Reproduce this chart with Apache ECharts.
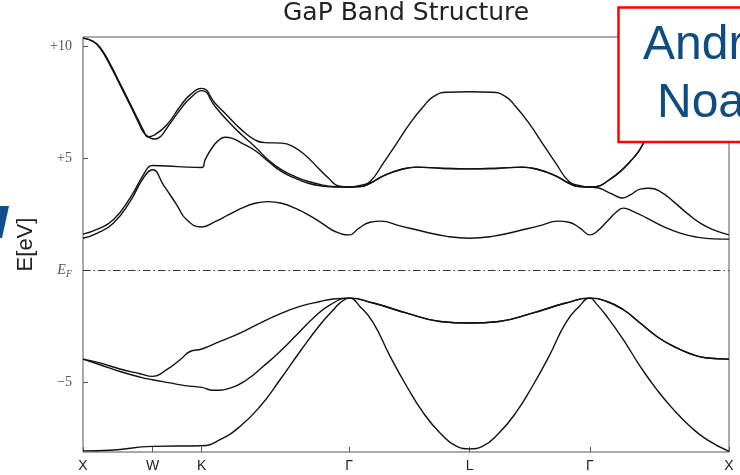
<!DOCTYPE html>
<html>
<head>
<meta charset="utf-8">
<title>GaP Band Structure</title>
<script src="https://cdn.jsdelivr.net/npm/echarts@6.0.0/dist/echarts.min.js"></script>
<style>
    html, body { margin: 0; padding: 0; background: #fff; }
    #chart { width: 740px; height: 475px; }
</style>
</head>
<body>
<div id="chart"></div>
<script>
// High-symmetry points along the k-path (path length, 2pi/a units)
const kTicks = [0, 0.5, 0.854, 1.914, 2.78, 3.646, 4.646];
const kLabels = ['X', 'W', 'K', 'Γ', 'L', 'Γ', 'X'];

// Energy ticks
const eTicks = [-5, 0, 5, 10];
const eLabels = ['−5', '{e|E}{f|F}', '+5', '+10'];

// Bands, [k, E in eV]
const band1 = [
    [0, -8.05], [0.194, -8.02], [0.5, -7.85], [0.854, -7.82], [0.986, -7.55], [1.129, -6.96], [1.273, -6.07],
    [1.417, -4.88], [1.561, -3.62], [1.705, -2.43], [1.801, -1.76], [1.849, -1.45], [1.914, -1.24],
    [1.993, -1.62], [2.088, -2.34], [2.209, -3.84], [2.329, -5.18], [2.448, -6.36], [2.568, -7.25], [2.688, -7.85], [2.78, -7.96],
    [2.872, -7.85], [2.992, -7.25], [3.112, -6.36], [3.231, -5.18], [3.351, -3.84], [3.472, -2.34], [3.567, -1.62], [3.646, -1.24],
    [3.696, -1.52], [3.768, -2.06], [3.887, -3.1], [4.007, -4.28], [4.127, -5.32], [4.247, -6.21], [4.367, -6.96], [4.487, -7.55], [4.646, -8.07]
];
const band2 = [
    [0, -3.96], [0.122, -4.21], [0.266, -4.51], [0.41, -4.76], [0.5, -4.88], [0.626, -5.02], [0.734, -5.14], [0.854, -5.22],
    [0.937, -5.35], [1.058, -5.25], [1.178, -4.88], [1.297, -4.28], [1.417, -3.62], [1.537, -2.87], [1.657, -2.13], [1.777, -1.54], [1.914, -1.24],
    [2.088, -1.46], [2.329, -1.91], [2.568, -2.28], [2.78, -2.35], [2.992, -2.28], [3.231, -1.91], [3.472, -1.46], [3.646, -1.24],
    [3.768, -1.39], [3.887, -1.76], [4.007, -2.35], [4.127, -2.95], [4.247, -3.39], [4.367, -3.72], [4.487, -3.91], [4.646, -3.96]
];
const band3 = [
    [0, -3.96], [0.122, -4.13], [0.266, -4.4], [0.41, -4.61], [0.5, -4.73], [0.602, -4.43], [0.698, -3.99], [0.77, -3.62], [0.854, -3.51],
    [0.986, -3.17], [1.129, -2.8], [1.273, -2.35], [1.417, -1.94], [1.561, -1.61], [1.705, -1.39], [1.801, -1.28], [1.914, -1.24],
    [2.088, -1.46], [2.329, -1.91], [2.568, -2.28], [2.78, -2.35], [2.992, -2.28], [3.231, -1.91], [3.472, -1.46], [3.646, -1.24],
    [3.768, -1.39], [3.887, -1.76], [4.007, -2.35], [4.127, -2.95], [4.247, -3.39], [4.367, -3.72], [4.487, -3.91], [4.646, -3.96]
];
const band4 = [
    [0, 1.43], [0.1, 1.65], [0.218, 2.1], [0.338, 3.06], [0.434, 4.11], [0.5, 4.48], [0.578, 3.81], [0.674, 2.92], [0.746, 2.25], [0.854, 1.93],
    [0.95, 2.17], [1.045, 2.47], [1.141, 2.77], [1.237, 2.99], [1.333, 3.06], [1.429, 2.99], [1.525, 2.77], [1.621, 2.47], [1.717, 2.1], [1.813, 1.73], [1.914, 1.58],
    [1.985, 1.88], [2.065, 2.14], [2.14, 2.19], [2.281, 1.98], [2.448, 1.73], [2.617, 1.51], [2.78, 1.43],
    [2.943, 1.51], [3.112, 1.73], [3.279, 1.98], [3.42, 2.19], [3.495, 2.14], [3.575, 1.88], [3.646, 1.58],
    [3.696, 1.73], [3.768, 2.17], [3.84, 2.62], [3.887, 2.77], [3.959, 2.62], [4.055, 2.33], [4.175, 1.95], [4.295, 1.66], [4.415, 1.48], [4.535, 1.4], [4.646, 1.39]
];
const band5 = [
    [0, 1.61], [0.1, 1.82], [0.218, 2.25], [0.338, 3.22], [0.434, 4.25], [0.482, 4.65], [0.5, 4.67], [0.68, 4.62], [0.854, 4.58],
    [0.878, 4.92], [0.926, 5.44], [0.973, 5.78], [1.022, 5.93], [1.07, 5.89], [1.141, 5.67], [1.237, 5.34], [1.333, 4.85], [1.429, 4.4],
    [1.525, 4.11], [1.621, 3.88], [1.717, 3.76], [1.813, 3.71], [1.914, 3.71],
    [1.993, 3.73], [2.065, 3.88], [2.16, 4.21], [2.281, 4.48], [2.401, 4.6], [2.568, 4.55], [2.78, 4.52],
    [2.992, 4.55], [3.159, 4.6], [3.279, 4.48], [3.4, 4.21], [3.495, 3.88], [3.567, 3.73], [3.646, 3.71],
    [3.7, 3.68], [3.768, 3.51], [3.84, 3.29], [3.876, 3.22], [3.935, 3.36], [4.007, 3.62], [4.067, 3.66], [4.151, 3.51],
    [4.247, 3.06], [4.343, 2.55], [4.439, 2.1], [4.535, 1.8], [4.646, 1.58]
];
const band6 = [
    [0, 10.35], [0.074, 10.19], [0.122, 9.9], [0.194, 9.15], [0.266, 8.26], [0.338, 7.37], [0.398, 6.6], [0.434, 6.16], [0.47, 5.95],
    [0.518, 5.85], [0.56, 5.98], [0.602, 6.33], [0.698, 7.15], [0.77, 7.67], [0.854, 8.01],
    [0.95, 7.3], [1.045, 6.63], [1.141, 6.04], [1.237, 5.51], [1.333, 4.92], [1.429, 4.48], [1.525, 4.18], [1.621, 3.96], [1.717, 3.81], [1.813, 3.73], [1.914, 3.71],
    [1.993, 3.73], [2.065, 3.88], [2.16, 4.21], [2.281, 4.48], [2.401, 4.6], [2.568, 4.55], [2.78, 4.52],
    [2.992, 4.55], [3.159, 4.6], [3.279, 4.48], [3.4, 4.21], [3.495, 3.88], [3.567, 3.73], [3.646, 3.71],
    [3.7, 3.74], [3.768, 3.96], [3.863, 4.4], [3.935, 4.85], [3.995, 5.29], [4.031, 5.67], [4.127, 6.6], [4.247, 7.6], [4.367, 8.55], [4.487, 9.45], [4.58, 10.1], [4.646, 10.35]
];
const band7 = [
    [0, 10.35], [0.074, 10.21], [0.122, 9.95], [0.194, 9.22], [0.266, 8.33], [0.338, 7.44], [0.398, 6.7], [0.434, 6.25], [0.468, 5.95],
    [0.51, 6.02], [0.602, 6.48], [0.698, 7.3], [0.77, 7.82], [0.854, 8.11],
    [0.95, 7.45], [1.045, 6.85], [1.141, 6.26], [1.237, 5.81], [1.309, 5.69], [1.429, 5.67], [1.501, 5.55], [1.597, 5.14], [1.693, 4.55], [1.765, 4.11], [1.837, 3.76], [1.914, 3.71],
    [1.993, 3.78], [2.065, 3.96], [2.16, 4.78], [2.257, 5.67], [2.353, 6.56], [2.448, 7.3], [2.52, 7.74], [2.617, 7.94], [2.78, 7.96],
    [2.943, 7.94], [3.04, 7.74], [3.112, 7.3], [3.207, 6.56], [3.303, 5.67], [3.4, 4.78], [3.495, 3.96], [3.567, 3.78], [3.646, 3.71],
    [3.7, 3.74], [3.768, 3.96], [3.863, 4.4], [3.935, 4.85], [3.995, 5.29], [4.031, 5.67], [4.127, 6.6], [4.247, 7.6], [4.367, 8.55], [4.487, 9.45], [4.58, 10.1], [4.646, 10.35]
];
const bands = [band1, band2, band3, band4, band5, band6, band7];

function labelFor(ticks, labels, v) {
    let best = 0;
    for (let i = 1; i < ticks.length; i++) {
        if (Math.abs(ticks[i] - v) < Math.abs(ticks[best] - v)) best = i;
    }
    return labels[best];
}

const chart = echarts.init(document.getElementById('chart'));

const series = bands.map((b, i) => ({
    name: 'band ' + (i + 1),
    type: 'line',
    data: b,
    smooth: 0.5,
    showSymbol: false,
    silent: true,
    lineStyle: { color: '#111', width: 1.4 }
}));

// Fermi level
series[0].markLine = {
    silent: true,
    symbol: 'none',
    label: { show: false },
    lineStyle: { color: '#333', width: 1, type: [7.5, 3, 1.5, 3] },
    data: [{ yAxis: 0 }]
};

const option = {
    animation: false,
    backgroundColor: '#fff',
    title: {
        text: 'GaP Band Structure',
        left: 283,
        top: 1,
        padding: 0,
        textStyle: { fontFamily: 'DejaVu Sans', fontSize: 25, fontWeight: 'normal', color: '#222' }
    },
    grid: {
        left: 83, right: 11, top: 37, bottom: 23,
        show: true,
        borderColor: '#555',
        borderWidth: 1
    },
    xAxis: {
        type: 'value',
        min: 0,
        max: 4.646,
        axisLine: { show: false, onZero: false },
        splitLine: { show: false },
        axisTick: { inside: true, length: 5, customValues: kTicks, lineStyle: { color: '#555' } },
        axisLabel: {
            customValues: kTicks,
            formatter: v => labelFor(kTicks, kLabels, v),
            margin: 7,
            fontFamily: 'Liberation Sans',
            fontSize: 14,
            color: '#222'
        }
    },
    yAxis: {
        type: 'value',
        min: -8.1,
        max: 10.4,
        name: 'E[eV]',
        nameLocation: 'middle',
        nameGap: 46,
        nameTextStyle: { fontFamily: 'Liberation Sans', fontSize: 22, color: '#222' },
        axisLine: { show: false, onZero: false },
        splitLine: { show: false },
        axisTick: { inside: true, length: 5, customValues: eTicks, lineStyle: { color: '#555' } },
        axisLabel: {
            customValues: eTicks,
            formatter: v => labelFor(eTicks, eLabels, v),
            margin: 11,
            fontFamily: 'Liberation Serif',
            fontSize: 14,
            color: '#555',
            rich: {
                e: { fontFamily: 'Liberation Serif', fontStyle: 'italic', fontSize: 14, color: '#555' },
                f: { fontFamily: 'Liberation Serif', fontStyle: 'italic', fontSize: 10, color: '#555', padding: [8, 0, 0, 0] }
            }
        }
    },
    series: series,
    graphic: [
        // slide overlay pieces
        {
            type: 'polygon',
            z: 100,
            shape: { points: [[0, 206], [9, 206], [2, 238], [0, 238]] },
            style: { fill: '#134f8c' }
        },
        {
            type: 'rect',
            z: 100,
            shape: { x: 618.5, y: 7.5, width: 200, height: 134.5 },
            style: { fill: '#fff', stroke: '#ff0000', lineWidth: 2.5 }
        },
        {
            type: 'text',
            z: 101,
            style: { text: 'Andr', x: 643, y: 45.5, font: '48px "Liberation Sans"', fill: '#0f4c81', textVerticalAlign: 'middle' }
        },
        {
            type: 'text',
            z: 101,
            style: { text: 'Noa', x: 657, y: 104, font: '48px "Liberation Sans"', fill: '#0f4c81', textVerticalAlign: 'middle' }
        }
    ]
};

chart.setOption(option);
</script>
</body>
</html>
